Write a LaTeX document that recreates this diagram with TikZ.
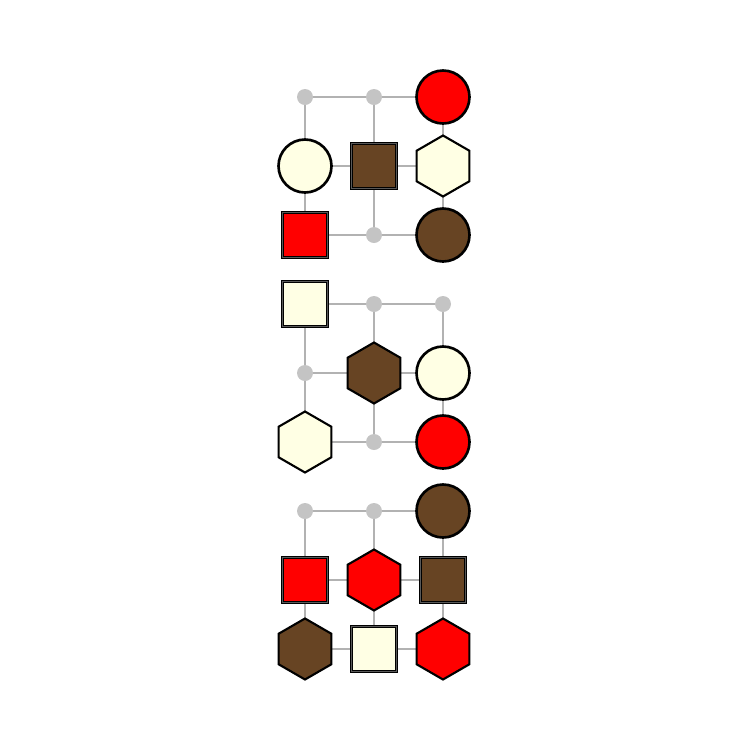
\documentclass[tikz,border=0pt]{standalone}
\definecolor{tokenred}{RGB}{255,0,0}
\definecolor{tokenbrown}{RGB}{103,68,35}
\definecolor{tokencream}{RGB}{255,255,228}
\definecolor{linkgray}{RGB}{178,178,178}
\definecolor{dotgray}{RGB}{196,196,196}
\usetikzlibrary{shapes.geometric,backgrounds}

\begin{document}
\begin{tikzpicture}[
		dotn/.style={circle,fill=dotgray,inner sep=0pt,minimum size=0.32cm},
		circ/.style={circle,draw=black,line width=1.5pt,inner sep=0pt,minimum size=1.06cm},
		sq/.style={rectangle,draw=black,line width=0.6pt,double=black!65,double distance=0.6pt,inner sep=0pt,minimum size=0.89cm},
		hex/.style={regular polygon,regular polygon sides=6,shape border rotate=30,draw=black,line width=1.2pt,inner sep=0pt,minimum size=1.22cm},
		link/.style={draw=linkgray,line width=1pt}]
			\useasboundingbox (0,0) rectangle (15,-15);
			% first block
			\node[dotn] (n111) at (6.10,-1.94) {};
			\node[dotn] (n112) at (7.48,-1.94) {};
			\node[circ,fill=tokenred] (n113) at (8.86,-1.94) {};
			\node[circ,fill=tokencream] (n121) at (6.10,-3.32) {};
			\node[sq,fill=tokenbrown] (n122) at (7.48,-3.32) {};
			\node[hex,fill=tokencream] (n123) at (8.86,-3.32) {};
			\node[sq,fill=tokenred] (n131) at (6.10,-4.70) {};
			\node[dotn] (n132) at (7.48,-4.70) {};
			\node[circ,fill=tokenbrown] (n133) at (8.86,-4.70) {};
			% second block
			\node[sq,fill=tokencream] (n211) at (6.10,-6.08) {};
			\node[dotn] (n212) at (7.48,-6.08) {};
			\node[dotn] (n213) at (8.86,-6.08) {};
			\node[dotn] (n221) at (6.10,-7.46) {};
			\node[hex,fill=tokenbrown] (n222) at (7.48,-7.46) {};
			\node[circ,fill=tokencream] (n223) at (8.86,-7.46) {};
			\node[hex,fill=tokencream] (n231) at (6.10,-8.84) {};
			\node[dotn] (n232) at (7.48,-8.84) {};
			\node[circ,fill=tokenred] (n233) at (8.86,-8.84) {};
			% third block
			\node[dotn] (n311) at (6.10,-10.22) {};
			\node[dotn] (n312) at (7.48,-10.22) {};
			\node[circ,fill=tokenbrown] (n313) at (8.86,-10.22) {};
			\node[sq,fill=tokenred] (n321) at (6.10,-11.60) {};
			\node[hex,fill=tokenred] (n322) at (7.48,-11.60) {};
			\node[sq,fill=tokenbrown] (n323) at (8.86,-11.60) {};
			\node[hex,fill=tokenbrown] (n331) at (6.10,-12.98) {};
			\node[sq,fill=tokencream] (n332) at (7.48,-12.98) {};
			\node[hex,fill=tokenred] (n333) at (8.86,-12.98) {};
			% grid links behind the tokens
			\begin{scope}[on background layer]
				\foreach \g in {1,2,3}
					\foreach \i/\j in {1/2,2/3}
						\foreach \k in {1,2,3} {
							\draw[link] (n\g\k\i.center) -- (n\g\k\j.center);
							\draw[link] (n\g\i\k.center) -- (n\g\j\k.center);
						}
			\end{scope}
		\end{tikzpicture}
\end{document}
